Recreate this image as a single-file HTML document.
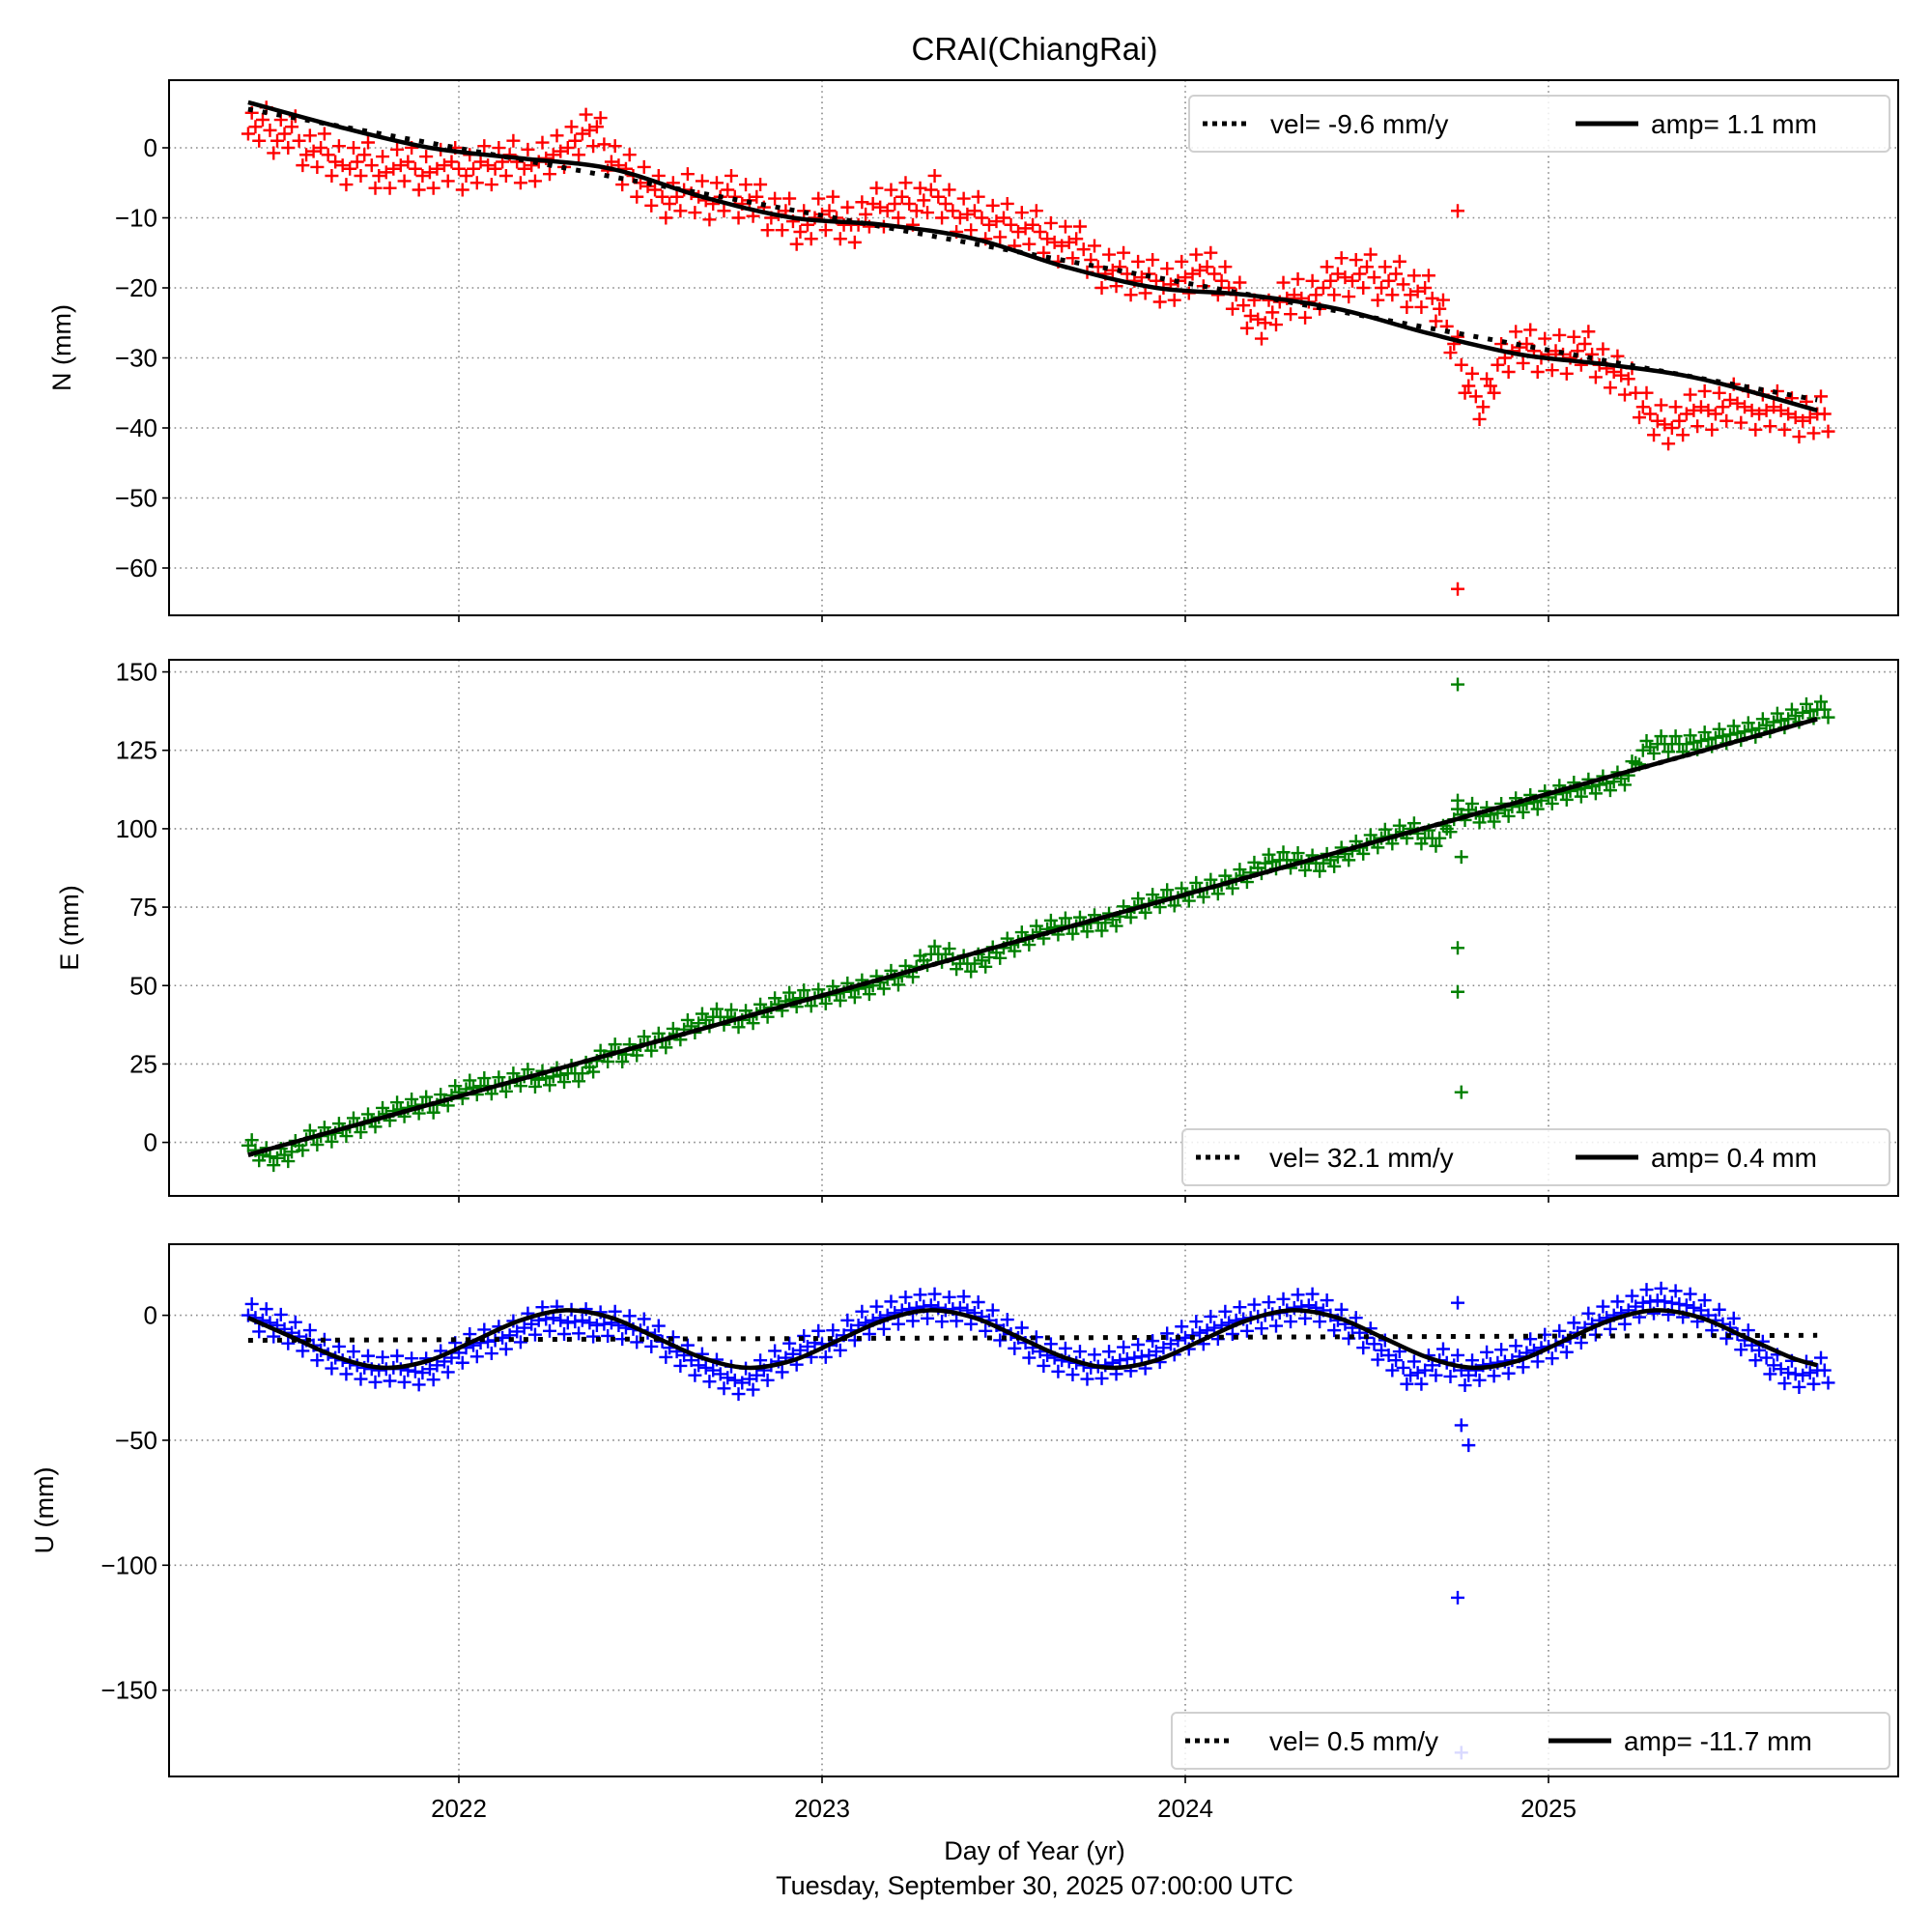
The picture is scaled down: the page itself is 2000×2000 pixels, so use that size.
<!DOCTYPE html>
<html><head><meta charset="utf-8"><style>
html,body{margin:0;padding:0;background:#fff;}
svg{display:block;font-family:"Liberation Sans",sans-serif;}
</style></head><body>
<svg id="chart" width="2000" height="2000" viewBox="0 0 2000 2000" xmlns="http://www.w3.org/2000/svg">
<rect width="2000" height="2000" fill="#fff"/>
<text x="1071" y="62" font-size="33" text-anchor="middle">CRAI(ChiangRai)</text>
<text x="1071" y="1925" font-size="27" text-anchor="middle">Day of Year (yr)</text>
<text x="1071" y="1961" font-size="27" text-anchor="middle">Tuesday, September 30, 2025 07:00:00 UTC</text>
</svg>
<script>
// shared time grid (years)
const tStart = 2021.42, tStep = 0.04;
const yearTicks = [2022, 2023, 2024, 2025];

// North
const nValues = [2,4,1,3,-1,0,-2,-3,-1,-4,-3,-2,-4,-3,-2,-4,-2,-3,-1,-3,-2,-1,0,2,3,-2,-3,-5,-6,-8,-6,-7,-8,-6,-8,-7,-10,-9,-12,-10,-9,-11,-11,-8,-9,-7,-9,-6,-8,-10,-9,-11,-10,-12,-11,-13,-14,-13,-16,-18,-17,-19,-18,-20,-19,-18,-17,-19,-21,-24,-25,-22,-21,-22,-20,-18,-19,-17,-20,-18,-21,-20,-23,-28,-34,-37,-31,-29,-28,-30,-29,-30,-28,-31,-32,-33,-37,-39,-40,-38,-37,-38,-36,-37,-38,-37,-38,-39,-38];
const nSpread = 2.5;
const nOutlierT = [2024.75, 2024.75];
const nOutlierV = [-9, -63];
const nTrendT = [2021.42, 2025.74];
const nTrendV = [5.5, -36];
const nFitT = [2021.42,2021.67,2021.92,2022.17,2022.42,2022.67,2022.92,2023.17,2023.42,2023.67,2023.92,2024.17,2024.42,2024.67,2024.92,2025.17,2025.42,2025.74];
const nFitV = [6.5,3,0,-1.5,-3,-7,-10,-11,-13,-17,-20,-21,-23,-26.5,-29.5,-31,-33,-37.5];
const nTicks = [0,-10,-20,-30,-40,-50,-60];

// East
const eValues = [-1,-4,-5,-3,1,2,3,5,6,8,10,11,12,12,15,17,18,18,19,21,20,21,22,22,26,29,28,31,32,33,36,38,40,40,39,41,43,45,46,46,47,48,49,50,52,53,56,60,60,57,57,59,62,64,66,68,69,69,70,70,72,75,76,78,78,80,81,82,84,86,89,90,90,89,89,91,93,95,97,98,100,97,97,103,106,104,105,107,108,109,111,112,113,114,115,117,125,127,127,127,128,129,130,131,132,134,135,137,138];
const eSpread = 2.5;
const eOutlierT = [2024.75,2024.75,2024.76,2024.75,2024.75,2024.76];
const eOutlierV = [146,109,91,62,48,16];
const eTrendT = [2021.42, 2025.74];
const eTrendV = [-4, 135];
const eFitT = [2021.42, 2025.74];
const eFitV = [-4, 135];
const eTicks = [0,25,50,75,100,125,150];

// Up
const uValues = [0,-2,-4,-7,-10,-14,-17,-19,-21,-22,-21,-22,-23,-20,-17,-13,-11,-10,-8,-5,-2,-1,-3,-2,-4,-3,-5,-6,-8,-13,-16,-20,-22,-25,-27,-24,-20,-17,-14,-11,-12,-8,-4,-2,0,2,3,4,2,3,1,-2,-6,-9,-13,-16,-18,-19,-21,-20,-18,-17,-16,-13,-10,-8,-6,-4,-2,-1,0,1,3,4,2,-2,-5,-9,-14,-18,-24,-22,-18,-20,-24,-20,-19,-18,-15,-13,-12,-9,-5,-2,0,2,5,6,5,4,2,-2,-5,-10,-14,-20,-23,-24,-22];
const uSpread = 5;
const uOutlierT = [2024.75,2024.76,2024.78,2024.75,2024.76];
const uOutlierV = [5,-44,-52,-113,-175];
const uTrendT = [2021.42, 2025.74];
const uTrendV = [-10, -8];
const uFitT = [2021.42,2021.545,2021.67,2021.795,2021.92,2022.045,2022.17,2022.295,2022.42,2022.545,2022.67,2022.795,2022.92,2023.045,2023.17,2023.295,2023.42,2023.545,2023.67,2023.795,2023.92,2024.045,2024.17,2024.295,2024.42,2024.545,2024.67,2024.795,2024.92,2025.045,2025.17,2025.295,2025.42,2025.545,2025.67,2025.74];
const uFitV = [-1,-9,-17,-21,-18,-10,-2,2,-1,-9,-17,-21,-18,-10,-2,2,-1,-9,-17,-21,-18,-10,-2,2,-1,-9,-17,-21,-18,-10,-2,2,-1,-9,-17,-20];
const uTicks = [0,-50,-100,-150];

const NS = "http://www.w3.org/2000/svg";
const svg = document.getElementById('chart');
const L = 175, R = 1965;
function xScale(t){ return 475 + (t - 2022) * 376; }
function mk(tag, attrs, parent){
  const e = document.createElementNS(NS, tag);
  for (const k in attrs) e.setAttribute(k, attrs[k]);
  (parent || svg).appendChild(e);
  return e;
}
function smoothPath(pts){
  if (pts.length < 3) return 'M' + pts.map(p => p[0].toFixed(1) + ',' + p[1].toFixed(1)).join(' L');
  let d = 'M' + pts[0][0].toFixed(1) + ',' + pts[0][1].toFixed(1);
  for (let i = 0; i < pts.length - 1; i++) {
    const p0 = pts[i-1] || pts[i], p1 = pts[i], p2 = pts[i+1], p3 = pts[i+2] || p2;
    const c1x = p1[0] + (p2[0]-p0[0])/6, c1y = p1[1] + (p2[1]-p0[1])/6;
    const c2x = p2[0] - (p3[0]-p1[0])/6, c2y = p2[1] - (p3[1]-p1[1])/6;
    d += ' C' + c1x.toFixed(1)+','+c1y.toFixed(1)+' '+c2x.toFixed(1)+','+c2y.toFixed(1)+' '+p2[0].toFixed(1)+','+p2[1].toFixed(1);
  }
  return d;
}
function plus(g, x, y, color){
  const s = 7;
  const p = mk('path', {d:`M${x-s},${y}H${x+s}M${x},${y-s}V${y+s}`, stroke:color, 'stroke-width':2.4, fill:'none'}, g);
  
  
}

function panel(cfg){
  const yScale = v => cfg.y0 + (v - cfg.v0) * cfg.k;
  const g = mk('g', {});
  
  
  cfg.ticks.forEach(v => {
    const y = yScale(v);
    const gl = mk('line', {x1:L, x2:R, y1:y, y2:y, stroke:'#888', 'stroke-width':1.6, 'stroke-dasharray':'1.6 4'}, g);
    
    
    const tk = mk('line', {x1:L-7, x2:L, y1:y, y2:y, stroke:'#000', 'stroke-width':1.6}, g);
    
    
    const tl = mk('text', {x:L-12, y:y+9, 'font-size':26, 'text-anchor':'end'}, g);
    tl.textContent = v < 0 ? '\u2212' + Math.abs(v) : String(v);
    
    
  });
  yearTicks.forEach(t => {
    const x = xScale(t);
    const gl = mk('line', {x1:x, x2:x, y1:cfg.top, y2:cfg.bot, stroke:'#888', 'stroke-width':1.6, 'stroke-dasharray':'1.6 4'}, g);
    
    
    const tk = mk('line', {x1:x, x2:x, y1:cfg.bot, y2:cfg.bot+7, stroke:'#000', 'stroke-width':1.6}, g);
    
    
    if (cfg.showX) {
      const tl = mk('text', {x:x, y:cfg.bot+42, 'font-size':26, 'text-anchor':'middle'}, g);
      tl.textContent = String(t);
      
      
    }
  });
  const dg = mk('g', {}, g);
  
  
  cfg.values.forEach((v, i) => {
    const nx = i < cfg.values.length - 1 ? cfg.values[i+1] : v;
    plus(dg, xScale(tStart + i * tStep), yScale(v), cfg.color);
    plus(dg, xScale(tStart + (i + 0.25) * tStep), yScale(v + 0.75*(nx - v) * 0.33 + cfg.spread), cfg.color);
    plus(dg, xScale(tStart + (i + 0.5) * tStep), yScale((v + nx) / 2), cfg.color);
    plus(dg, xScale(tStart + (i + 0.75) * tStep), yScale(v + 0.75*(nx - v) - cfg.spread), cfg.color);
  });
  cfg.outT.forEach((t, i) => plus(dg, xScale(t), yScale(cfg.outV[i]), cfg.color));
  const tr = mk('path', {d:smoothPath(cfg.trT.map((t,i)=>[xScale(t), yScale(cfg.trV[i])])), stroke:'#000', 'stroke-width':5, fill:'none', 'stroke-dasharray':'5 10'}, g);
  
  
  const ft = mk('path', {d:smoothPath(cfg.fitT.map((t,i)=>[xScale(t), yScale(cfg.fitV[i])])), stroke:'#000', 'stroke-width':4.5, fill:'none'}, g);
  
  
  const fr = mk('rect', {x:L, y:cfg.top, width:R-L, height:cfg.bot-cfg.top, fill:'none', stroke:'#000', 'stroke-width':2}, g);
  
  
  const yl = mk('text', {x:0, y:0, 'font-size':27, 'text-anchor':'middle', transform:`translate(${cfg.ylx},${(cfg.top+cfg.bot)/2}) rotate(-90)`}, g);
  yl.textContent = cfg.ylabel;
  
  
  const lg = mk('g', {}, g);
  
  
  const lx = cfg.legX, ly = cfg.legY, lw = 1956 - cfg.legX, lh = 58;
  mk('rect', {x:lx, y:ly, width:lw, height:lh, rx:5, fill:'#fff', 'fill-opacity':0.85, stroke:'#d0d0d0', 'stroke-width':2}, lg);
  const cy = ly + lh/2;
  const s1 = mk('line', {x1:lx+14, x2:lx+62, y1:cy, y2:cy, stroke:'#000', 'stroke-width':5, 'stroke-dasharray':'5 5'}, lg);
  
  
  const t1 = mk('text', {x:lx+cfg.t1dx, y:cy+10, 'font-size':28}, lg);
  t1.textContent = cfg.velText;
  
  
  const s2 = mk('line', {x1:lx+cfg.s2dx, x2:lx+cfg.s2dx+65, y1:cy, y2:cy, stroke:'#000', 'stroke-width':5}, lg);
  
  
  const t2 = mk('text', {x:lx+cfg.s2dx+78, y:cy+10, 'font-size':28}, lg);
  t2.textContent = cfg.ampText;
  
  
}

panel({name:'north', top:83, bot:637, y0:153, v0:0, k:-7.25, ticks:nTicks, values:nValues, spread:nSpread,
  outT:nOutlierT, outV:nOutlierV, trT:nTrendT, trV:nTrendV, fitT:nFitT, fitV:nFitV, color:'#ff0000',
  ylabel:'N (mm)', ylx:73, showX:false, legX:1231, legY:99, t1dx:84, s2dx:400, velText:'vel= -9.6 mm/y', ampText:'amp= 1.1 mm'});
panel({name:'east', top:683, bot:1238, y0:1182.6, v0:0, k:-3.247, ticks:eTicks, values:eValues, spread:eSpread,
  outT:eOutlierT, outV:eOutlierV, trT:eTrendT, trV:eTrendV, fitT:eFitT, fitV:eFitV, color:'#008000',
  ylabel:'E (mm)', ylx:81, showX:false, legX:1224, legY:1169, t1dx:90, s2dx:407, velText:'vel= 32.1 mm/y', ampText:'amp= 0.4 mm'});
panel({name:'up', top:1288, bot:1839, y0:1361.6, v0:0, k:-2.587, ticks:uTicks, values:uValues, spread:uSpread,
  outT:uOutlierT, outV:uOutlierV, trT:uTrendT, trV:uTrendV, fitT:uFitT, fitV:uFitV, color:'#0000ff',
  ylabel:'U (mm)', ylx:55, showX:true, legX:1213, legY:1773, t1dx:101, s2dx:390, velText:'vel= 0.5 mm/y', ampText:'amp= -11.7 mm'});
</script>
</body></html>
